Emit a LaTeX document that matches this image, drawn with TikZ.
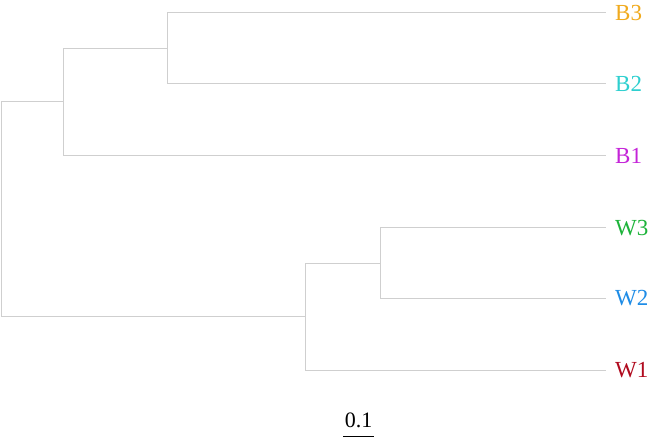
\documentclass[tikz,border=0pt]{standalone}
\usepackage{fontspec}
\setmainfont{Liberation Serif}
\usepackage{tikz}
\usetikzlibrary{positioning}

\definecolor{colBthree}{HTML}{F0AA1E}
\definecolor{colBtwo}{HTML}{2ECFCF}
\definecolor{colBone}{HTML}{C424D8}
\definecolor{colWthree}{HTML}{1DB33A}
\definecolor{colWtwo}{HTML}{1E8CE6}
\definecolor{colWone}{HTML}{B00A1E}
\definecolor{branchgray}{HTML}{CFCFCF}

\begin{document}
\begin{tikzpicture}[
  x=1pt, y=-1pt,
  font=\fontsize{23}{25}\selectfont,
  branch/.style={draw=branchgray, line width=1pt},
  leaf/.style={anchor=west, inner xsep=9pt, inner ysep=0pt},
  scalebar/.style={draw=black, line width=1pt}
]
  \useasboundingbox (0,0) rectangle (650,438);

  \node[leaf, text=colBthree] (b3) at (606,13) {B3};
  \node[leaf, text=colBtwo]   (b2) at (606,84) {B2};
  \node[leaf, text=colBone]   (b1) at (606,156) {B1};
  \node[leaf, text=colWthree] (w3) at (606,228) {W3};
  \node[leaf, text=colWtwo]   (w2) at (606,298) {W2};
  \node[leaf, text=colWone]   (w1) at (606,370) {W1};

  \coordinate (nb23) at (167,48.5);
  \coordinate (nb)   at (63,102);
  \coordinate (nw23) at (380,263);
  \coordinate (nw)   at (305,316.5);
  \coordinate (root) at (1,209);

  \draw[branch] (nb23) |- (b3.west);
  \draw[branch] (nb23) |- (b2.west);
  \draw[branch] (nb) |- (nb23);
  \draw[branch] (nb) |- (b1.west);
  \draw[branch] (nw23) |- (w3.west);
  \draw[branch] (nw23) |- (w2.west);
  \draw[branch] (nw) |- (nw23);
  \draw[branch] (nw) |- (w1.west);
  \draw[branch] (root) |- (nb);
  \draw[branch] (root) |- (nw);

  \coordinate (sbl) at (343,436.5);
  \coordinate (sbr) at (374,436.5);
  \node[font=\fontsize{22}{24}\selectfont, inner sep=0pt, anchor=base]
    (sblabel) at (358.5,427) {0.1};
  \draw[scalebar] (sbl) -- (sbr);
\end{tikzpicture}
\end{document}
